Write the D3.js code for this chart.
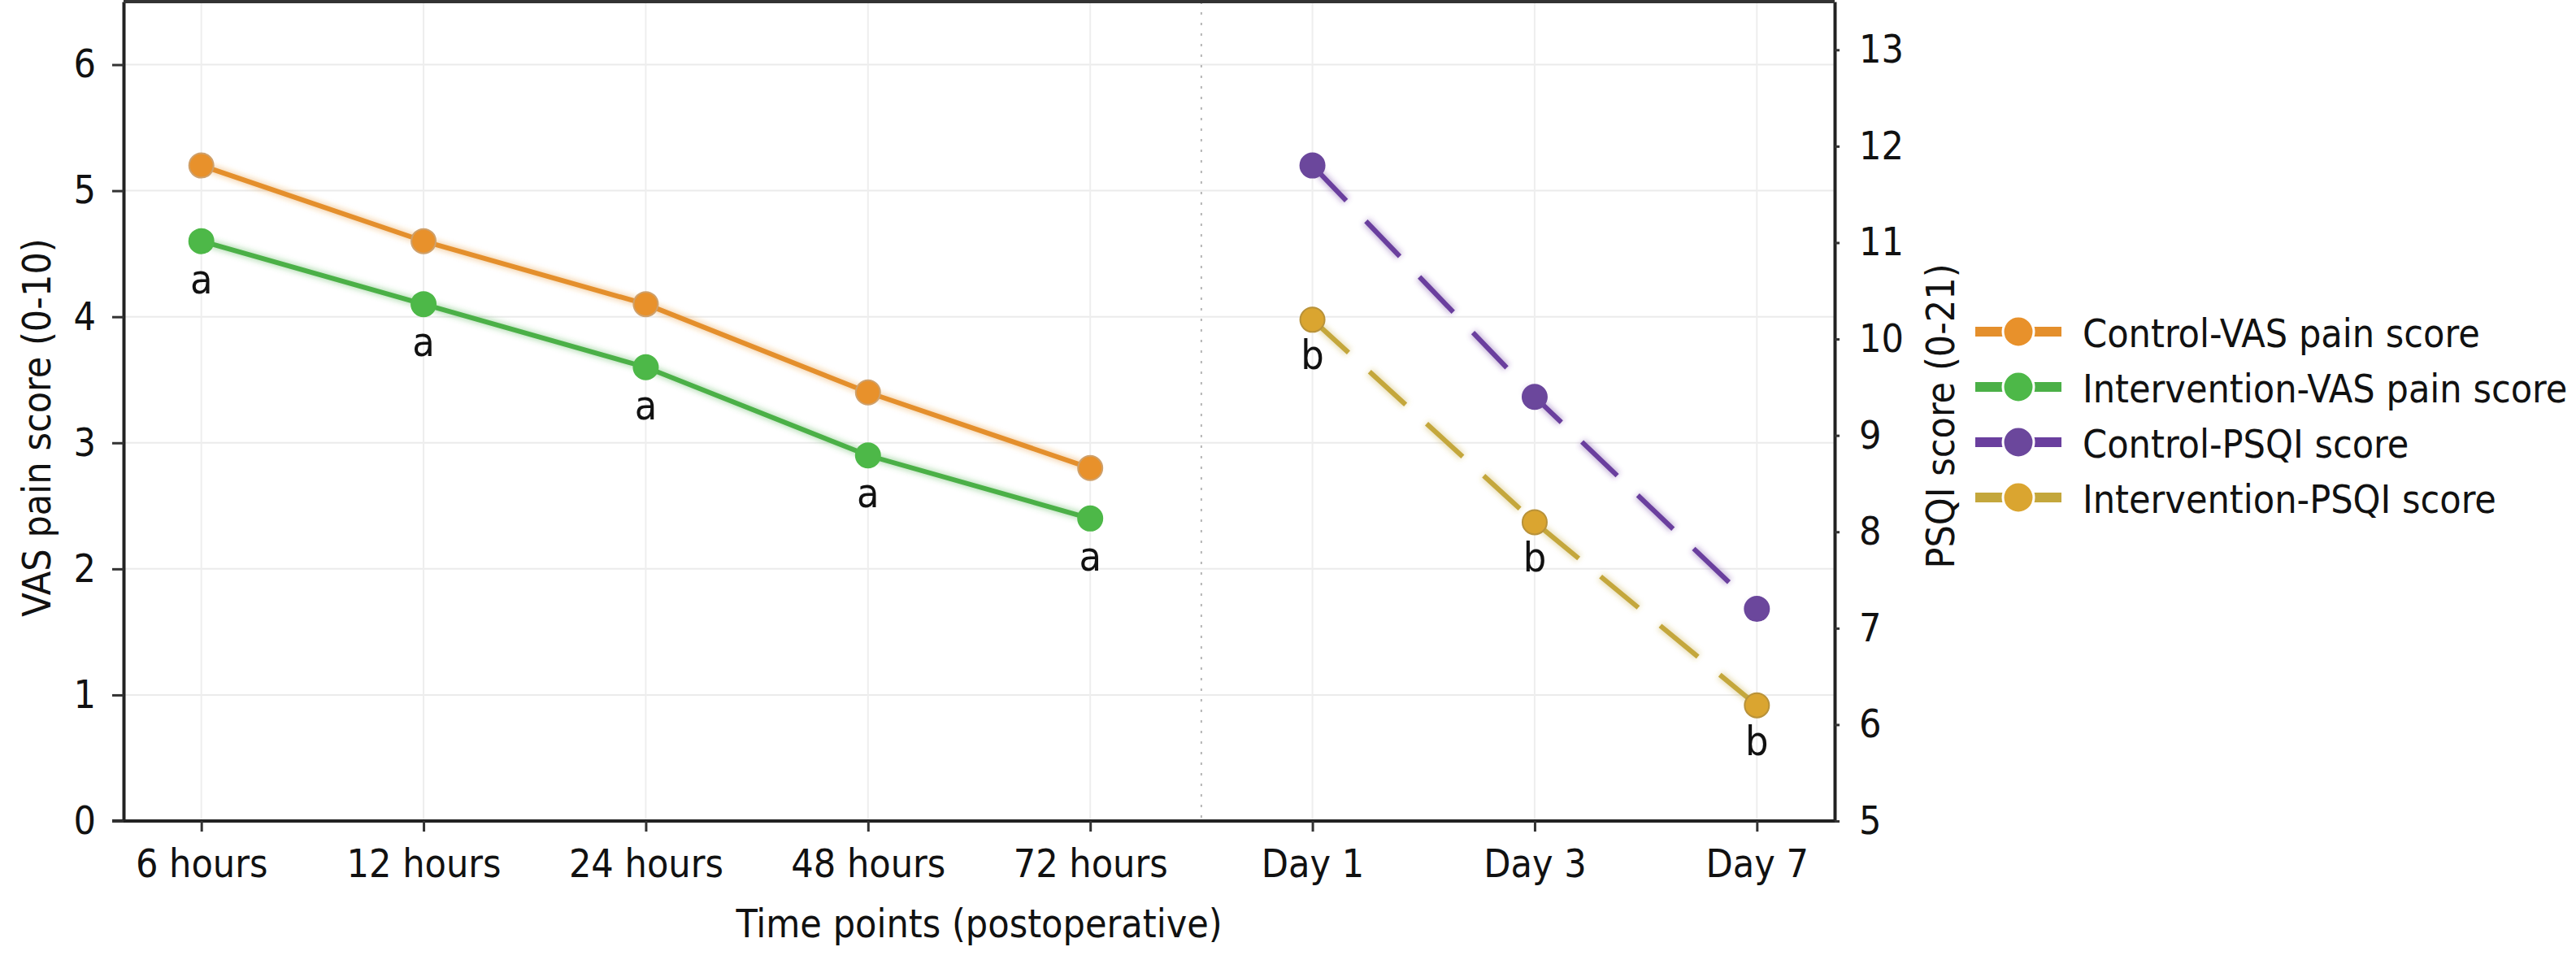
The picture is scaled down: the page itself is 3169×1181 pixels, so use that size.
<!DOCTYPE html>
<html>
<head>
<meta charset="utf-8">
<script src="https://cdn.jsdelivr.net/npm/d3@7"></script>
<style>
  html, body { margin: 0; padding: 0; background: #fff; }
  svg text {
    font-family: "DejaVu Sans Condensed", "DejaVu Sans", sans-serif;
    font-stretch: condensed;
    fill: #111;
  }
</style>
</head>
<body>
<div id="chart"></div>
<script>
// Data
const categories = ["6 hours", "12 hours", "24 hours", "48 hours", "72 hours", "Day 1", "Day 3", "Day 7"];
const vasCategories = ["6 hours", "12 hours", "24 hours", "48 hours", "72 hours"];
const psqiCategories = ["Day 1", "Day 3", "Day 7"];

const controlVAS = [5.2, 4.6, 4.1, 3.4, 2.8];
const interventionVAS = [4.6, 4.1, 3.6, 2.9, 2.4];
const controlPSQI = [11.8, 9.4, 7.2];
const interventionPSQI = [10.2, 8.1, 6.2];

const vasMarks = ["a", "a", "a", "a", "a"];
const psqiMarks = ["b", "b", "b"];

const vasTicks = [0, 1, 2, 3, 4, 5, 6];
const psqiTicks = [5, 6, 7, 8, 9, 10, 11, 12, 13];

const legendLabels = ["Control-VAS pain score", "Intervention-VAS pain score", "Control-PSQI score", "Intervention-PSQI score"];

// Size of the page
const W = 3169, H = 1181;
const plot = {left: 152, right: 2257, top: 2, bottom: 1010};

const svg = d3.select("#chart").append("svg")
    .attr("width", W)
    .attr("height", H);

// Scales
const x = d3.scalePoint()
    .domain(categories)
    .range([plot.left, plot.right])
    .padding(0.35);

const yL = d3.scaleLinear()
    .domain([0, 6.5])
    .range([plot.bottom, plot.top]);

const yR = d3.scaleLinear()
    .domain([5, 13.5])
    .range([plot.bottom, plot.top]);

// glow filter for the lines
const defs = svg.append("defs");
defs.append("filter")
    .attr("id", "glow")
    .attr("x", "-10%").attr("y", "-10%")
    .attr("width", "120%").attr("height", "120%")
  .append("feGaussianBlur")
    .attr("stdDeviation", 3);

// Grid
svg.append("g")
    .selectAll("line")
    .data(vasTicks)
    .enter().append("line")
    .attr("x1", plot.left).attr("x2", plot.right)
    .attr("y1", d => yL(d)).attr("y2", d => yL(d))
    .attr("stroke", "#ebebeb")
    .attr("stroke-width", 2);

svg.append("g")
    .selectAll("line")
    .data(categories)
    .enter().append("line")
    .attr("x1", d => x(d)).attr("x2", d => x(d))
    .attr("y1", plot.top).attr("y2", plot.bottom)
    .attr("stroke", "#eeeeee")
    .attr("stroke-width", 2);

// dotted separator between hours and days
const sepX = (x("72 hours") + x("Day 1")) / 2;
svg.append("line")
    .attr("x1", sepX).attr("x2", sepX)
    .attr("y1", plot.top).attr("y2", plot.bottom)
    .attr("stroke", "#b5b5b5")
    .attr("stroke-width", 2)
    .attr("stroke-dasharray", "3,10");

// Axes
const xAxis = svg.append("g")
    .attr("transform", `translate(0,${plot.bottom})`)
    .call(d3.axisBottom(x).tickSize(13).tickPadding(22).tickSizeOuter(0));
xAxis.select(".domain").attr("stroke", "#222").attr("stroke-width", 4)
    .attr("d", `M${plot.left - 14},0H${plot.right}`);
xAxis.selectAll(".tick line").attr("stroke", "#333").attr("stroke-width", 3);
xAxis.selectAll(".tick text").attr("font-size", 48).attr("dy", "0.71em");

const leftAxis = svg.append("g")
    .attr("transform", `translate(${plot.left},0)`)
    .call(d3.axisLeft(yL).tickValues(vasTicks).tickFormat(d3.format("d"))
        .tickSize(14).tickPadding(20).tickSizeOuter(0));
leftAxis.select(".domain").attr("stroke", "#222").attr("stroke-width", 4);
leftAxis.selectAll(".tick line").attr("stroke", "#333").attr("stroke-width", 3);
leftAxis.selectAll(".tick text").attr("font-size", 48);

const rightAxis = svg.append("g")
    .attr("transform", `translate(${plot.right},0)`)
    .call(d3.axisRight(yR).tickValues(psqiTicks).tickFormat(d3.format("d"))
        .tickSize(6).tickPadding(24).tickSizeOuter(0));
rightAxis.select(".domain").attr("stroke", "#222").attr("stroke-width", 4);
rightAxis.selectAll(".tick line").attr("stroke", "#333").attr("stroke-width", 3);
rightAxis.selectAll(".tick text").attr("font-size", 48);

// top border
svg.append("line")
    .attr("x1", plot.left).attr("x2", plot.right)
    .attr("y1", plot.top).attr("y2", plot.top)
    .attr("stroke", "#333")
    .attr("stroke-width", 4);

// Axis titles
svg.append("text")
    .attr("transform", `translate(62,${(plot.top + plot.bottom) / 2 + 20}) rotate(-90)`)
    .attr("text-anchor", "middle")
    .attr("font-size", 48)
    .text("VAS pain score (0-10)");

svg.append("text")
    .attr("transform", `translate(2404,${(plot.top + plot.bottom) / 2 + 6}) rotate(-90)`)
    .attr("text-anchor", "middle")
    .attr("font-size", 48)
    .text("PSQI score (0-21)");

svg.append("text")
    .attr("x", (plot.left + plot.right) / 2)
    .attr("y", 1153)
    .attr("text-anchor", "middle")
    .attr("font-size", 48)
    .text("Time points (postoperative)");

// Series
const series = [
    {cats: vasCategories, values: controlVAS, y: yL, line: "#e48f2c", fill: "#e8912b", stroke: "#cfa06a", dash: null},
    {cats: vasCategories, values: interventionVAS, y: yL, line: "#4bb047", fill: "#4db848", stroke: "#4db848", dash: null},
    {cats: psqiCategories, values: controlPSQI, y: yR, line: "#6a3f9e", fill: "#6b479c", stroke: "#6b479c", dash: "60,35"},
    {cats: psqiCategories, values: interventionPSQI, y: yR, line: "#c4a73c", fill: "#daa530", stroke: "#b8923a", dash: "60,35"}
];

series.forEach(s => {
    const pts = s.values.map((v, i) => ({c: s.cats[i], v: v}));
    const line = d3.line()
        .x(d => x(d.c))
        .y(d => s.y(d.v));

    // soft halo under the line
    svg.append("path")
        .datum(pts)
        .attr("fill", "none")
        .attr("stroke", s.line)
        .attr("stroke-opacity", 0.35)
        .attr("stroke-width", 11)
        .attr("stroke-dasharray", s.dash)
        .attr("filter", "url(#glow)")
        .attr("d", line);

    svg.append("path")
        .datum(pts)
        .attr("fill", "none")
        .attr("stroke", s.line)
        .attr("stroke-width", 6)
        .attr("stroke-dasharray", s.dash)
        .attr("d", line);

    svg.append("g")
        .selectAll("circle")
        .data(pts)
        .enter().append("circle")
        .attr("cx", d => x(d.c))
        .attr("cy", d => s.y(d.v))
        .attr("r", 15)
        .attr("fill", s.fill)
        .attr("stroke", s.stroke)
        .attr("stroke-width", 2);
});

// significance letters under the intervention points
svg.append("g")
    .selectAll("text")
    .data(interventionVAS)
    .enter().append("text")
    .attr("x", (d, i) => x(vasCategories[i]))
    .attr("y", d => yL(d) + 64)
    .attr("text-anchor", "middle")
    .attr("font-size", 50)
    .text((d, i) => vasMarks[i]);

svg.append("g")
    .selectAll("text")
    .data(interventionPSQI)
    .enter().append("text")
    .attr("x", (d, i) => x(psqiCategories[i]))
    .attr("y", d => yR(d) + 61)
    .attr("text-anchor", "middle")
    .attr("font-size", 50)
    .text((d, i) => psqiMarks[i]);

// Legend
const legend = svg.append("g")
    .attr("transform", "translate(2430,408)");

const rows = legend.selectAll("g")
    .data(series)
    .enter().append("g")
    .attr("transform", (d, i) => `translate(0,${i * 68})`);

rows.append("line")
    .attr("x1", 0).attr("x2", 106)
    .attr("y1", 0).attr("y2", 0)
    .attr("stroke", d => d.line)
    .attr("stroke-width", 12);

rows.append("circle")
    .attr("cx", 53)
    .attr("cy", 0)
    .attr("r", 19)
    .attr("fill", d => d.fill)
    .attr("stroke", "#fff")
    .attr("stroke-width", 3);

rows.append("text")
    .attr("x", 132)
    .attr("y", 19)
    .attr("font-size", 48)
    .text((d, i) => legendLabels[i]);
</script>
</body>
</html>
